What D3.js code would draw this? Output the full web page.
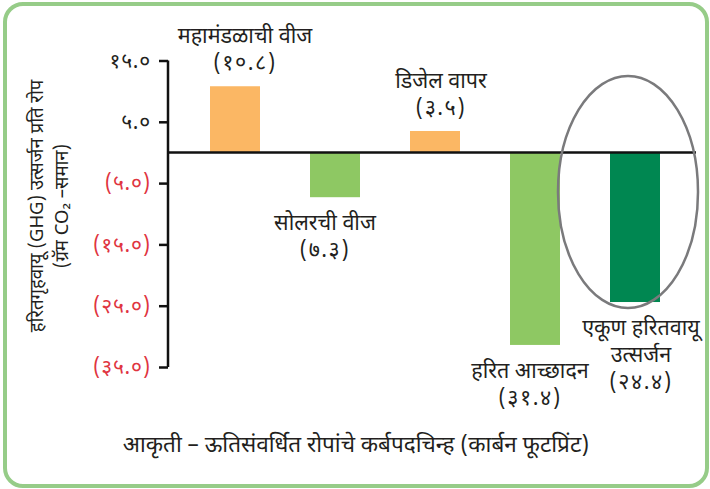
<!DOCTYPE html>
<html>
<head>
<meta charset="utf-8">
<script src="https://cdn.jsdelivr.net/npm/d3@7"></script>
<style>
  html, body { margin: 0; padding: 0; background: #fff; }
  svg text { font-family: "Noto Sans Devanagari", "Lohit Devanagari", "Mangal", "Noto Sans", sans-serif; fill: #231f20; }
</style>
</head>
<body>
<script>
'use strict';

// data (ग्रॅम CO2-समान per plant)
var categories = ["महामंडळाची वीज", "सोलरची वीज", "डिजेल वापर", "हरित आच्छादन", "एकूण हरितवायू उत्सर्जन"];
var labelLines = [["महामंडळाची वीज"], ["सोलरची वीज"], ["डिजेल वापर"], ["हरित आच्छादन"], ["एकूण हरितवायू", "उत्सर्जन"]];
var values = [10.8, -7.3, 3.5, -31.4, -24.4];
var barColors = ["#fbb764", "#8ec863", "#fbb764", "#8ec863", "#008751"];
var tickValues = [15, 5, -5, -15, -25, -35];
var yTitle = ["हरितगृहवायू (GHG) उत्सर्जन प्रति रोप", "(ग्रॅम CO₂ –समान)"];
var caption = "आकृती – ऊतिसंवर्धित रोपांचे कर्बपदचिन्ह (कार्बन फूटप्रिंट)";

// small layout nudges so labels sit where the figure has them
var labelShift = [10, -10, 6, -5, 6];

var width = 710, height = 489;

var devDigits = "०१२३४५६७८९";
function toDev(s) {
	return String(s).replace(/[0-9]/g, function(c) { return devDigits[+c]; });
}
function fmtVal(v) {
	var s = toDev(Math.abs(v).toFixed(1));
	return v < 0 ? "(" + s + ")" : s;
}

var svg = d3.select("body").append("svg")
	.attr("width", width)
	.attr("height", height);

// rounded green frame
svg.append("rect")
	.attr("x", 5).attr("y", 4)
	.attr("width", 702).attr("height", 482)
	.attr("rx", 18).attr("ry", 18)
	.style("fill", "none")
	.style("stroke", "#96cc88")
	.style("stroke-width", 4);

// scales
var x = d3.scaleBand().domain(categories).range([168, 718]).padding(0.5);
var y = d3.scaleLinear().domain([15, -35]).range([60.5, 367]);

// bars
svg.selectAll(".bar")
	.data(values)
	.enter().append("rect")
	.attr("class", "bar")
	.attr("x", function(d, i) { return x(categories[i]) - 8; })
	.attr("y", function(d) { return y(Math.max(0, d)); })
	.attr("width", x.bandwidth())
	.attr("height", function(d) { return Math.abs(y(d) - y(0)); })
	.style("fill", function(d, i) { return barColors[i]; });

// y axis
var yAxis = d3.axisLeft(y)
	.tickValues(tickValues)
	.tickSize(9)
	.tickSizeOuter(0)
	.tickPadding(8)
	.tickFormat(fmtVal);

var yAxisG = svg.append("g")
	.attr("transform", "translate(168,0)")
	.call(yAxis);
yAxisG.select(".domain").attr("d", "M0," + y(15) + "V" + y(-35)).style("stroke", "#111").style("stroke-width", 2.5);
yAxisG.selectAll(".tick line").style("stroke", "#111").style("stroke-width", 2.5);
yAxisG.selectAll(".tick text")
	.style("font-size", "21px")
	.style("letter-spacing", "0.8px")
	.style("fill", function(d) { return d < 0 ? "#e0353f" : "#231f20"; });

// zero line
svg.append("line")
	.attr("x1", 168).attr("x2", 696)
	.attr("y1", y(0)).attr("y2", y(0))
	.style("stroke", "#111")
	.style("stroke-width", 2.5);

// highlight ellipse around the total
svg.append("ellipse")
	.attr("cx", x(categories[4]) - 8 + x.bandwidth() / 2 - 7)
	.attr("cy", 192)
	.attr("rx", 70).attr("ry", 116)
	.style("fill", "none")
	.style("stroke", "#7a7a7c")
	.style("stroke-width", 2.5);

// bar labels
var lineH = 27;
var labels = svg.selectAll(".barLabel")
	.data(values)
	.enter().append("text")
	.attr("class", "barLabel")
	.attr("text-anchor", "middle")
	.style("font-size", "21.5px");

labels.each(function(v, i) {
	var lines = labelLines[i].concat(["(" + toDev(Math.abs(v).toFixed(1)) + ")"]);
	var cx = x(categories[i]) - 8 + x.bandwidth() / 2 + labelShift[i];
	var y0 = v >= 0 ? y(v) - 16 - (lines.length - 1) * lineH : y(v) + 33;
	d3.select(this).selectAll("tspan")
		.data(lines)
		.enter().append("tspan")
		.attr("x", cx)
		.attr("y", function(d, j) { return y0 + j * lineH; })
		.attr("letter-spacing", function(d, j) { return j === lines.length - 1 ? "1.5px" : null; })
		.text(function(d) { return d; });
});

// y axis title
svg.append("g")
	.attr("transform", "translate(0,206)rotate(-90)")
	.selectAll("text")
	.data(yTitle)
	.enter().append("text")
	.attr("text-anchor", "middle")
	.attr("x", 0)
	.attr("y", function(d, i) { return 43 + i * 25; })
	.style("font-size", "18.5px")
	.text(function(d) { return d; });

// caption
svg.append("text")
	.attr("x", 356)
	.attr("y", 452)
	.attr("text-anchor", "middle")
	.style("font-size", "22.5px")
	.text(caption);
</script>
</body>
</html>
